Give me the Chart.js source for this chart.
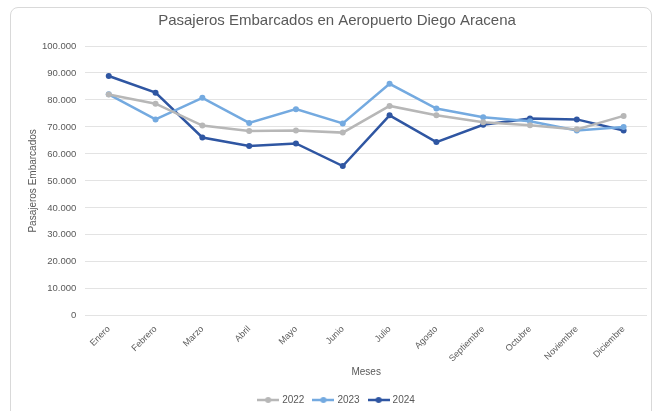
<!DOCTYPE html>
<html>
<head>
<meta charset="utf-8">
<script src="https://cdn.jsdelivr.net/npm/chart.js@4.4.1/dist/chart.umd.min.js"></script>
<style>
  html, body { margin: 0; padding: 0; background: #fff; }
  #wrap { position: relative; width: 658px; height: 411px; overflow: hidden; }
  #frame {
    position: absolute; left: 10px; top: 7px; width: 642px; height: 420px;
    border: 1px solid #d9d9d9; border-radius: 8px; box-sizing: border-box;
  }
  canvas { position: absolute; left: 0; top: 0; }
</style>
</head>
<body>
<div id="wrap">
  <div id="frame"></div>
  <canvas id="myChart" width="658" height="411"></canvas>
</div>
<script>
'use strict';

// datos
const meses = ['Enero', 'Febrero', 'Marzo', 'Abril', 'Mayo', 'Junio', 'Julio',
  'Agosto', 'Septiembre', 'Octubre', 'Noviembre', 'Diciembre'];

const pasajeros2022 = [82000, 78600, 70500, 68500, 68700, 67900, 77800, 74300, 71700, 70600, 69100, 74100];
const pasajeros2023 = [82100, 72800, 80800, 71500, 76600, 71300, 86000, 76800, 73600, 72100, 68700, 70000];
const pasajeros2024 = [88900, 82700, 66100, 62900, 63900, 55500, 74300, 64400, 70800, 73100, 72800, 68700];

const colores = ['#b7b7b7', '#74aae0', '#2f56a2'];

let gray = '#595959';
let fuente = 'Liberation Sans, Arial';

// icono de leyenda: linea con punto
function legendIcon(color) {
  let c = document.createElement('canvas');
  c.width = 22;
  c.height = 8;
  let ctx = c.getContext('2d');
  ctx.strokeStyle = color;
  ctx.lineWidth = 2.5;
  ctx.beginPath();
  ctx.moveTo(0, 4);
  ctx.lineTo(22, 4);
  ctx.stroke();
  ctx.fillStyle = color;
  ctx.beginPath();
  ctx.arc(11, 4, 3, 0, Math.PI * 2);
  ctx.fill();
  return c;
}

function serie(label, data, color) {
  return {
    label: label,
    data: data,
    borderColor: color,
    backgroundColor: color,
    borderWidth: 2.5,
    pointRadius: 3,
    pointBorderWidth: 0,
    pointHoverRadius: 3,
    pointStyle: 'circle',
    tension: 0
  };
}

function puntos(v) {
  return String(v).replace(/\B(?=(\d{3})+(?!\d))/g, '.');
}

const data = {
  labels: meses,
  datasets: [
    serie('2022', pasajeros2022, colores[0]),
    serie('2023', pasajeros2023, colores[1]),
    serie('2024', pasajeros2024, colores[2])
  ]
};

const config = {
  type: 'line',
  data: data,
  options: {
    responsive: false,
    animation: false,
    layout: { padding: { left: 27, right: 11, top: 11, bottom: -4 } },
    plugins: {
      title: {
        display: true,
        text: 'Pasajeros Embarcados en Aeropuerto Diego Aracena',
        color: gray,
        font: { family: fuente, size: 15, weight: 'normal' },
        padding: { top: 1, bottom: 16 }
      },
      legend: {
        position: 'bottom',
        labels: {
          usePointStyle: true,
          pointStyleWidth: 18, // el icono (22px) sobresale un poco, menos hueco al texto
          color: gray,
          font: { family: fuente, size: 10 },
          padding: 10,
          generateLabels: function(chart) {
            return chart.data.datasets.map((ds, i) => ({
              text: ds.label,
              pointStyle: legendIcon(colores[i]),
              fillStyle: colores[i],
              strokeStyle: colores[i],
              lineWidth: 0,
              fontColor: gray,
              datasetIndex: i
            }));
          }
        }
      },
      tooltip: { enabled: false }
    },
    scales: {
      x: {
        offset: true,
        grid: { display: false },
        border: { display: false },
        ticks: {
          color: gray,
          font: { family: fuente, size: 9 },
          maxRotation: 45,
          minRotation: 45,
          padding: 0
        },
        title: {
          display: true,
          text: 'Meses',
          color: gray,
          font: { family: fuente, size: 10 },
          padding: { top: 2, bottom: 7 }
        }
      },
      y: {
        min: 0,
        max: 100000,
        border: { display: false },
        grid: { color: '#e3e3e3', lineWidth: 1, drawTicks: false },
        ticks: {
          stepSize: 10000,
          color: gray,
          font: { family: fuente, size: 9.5 },
          padding: 9,
          callback: v => puntos(v)
        },
        title: {
          display: true,
          text: 'Pasajeros Embarcados',
          color: gray,
          font: { family: fuente, size: 10 },
          padding: { top: 0, bottom: -6 }
        }
      }
    }
  }
};

const myChart = new Chart(document.getElementById('myChart'), config);
</script>
</body>
</html>
